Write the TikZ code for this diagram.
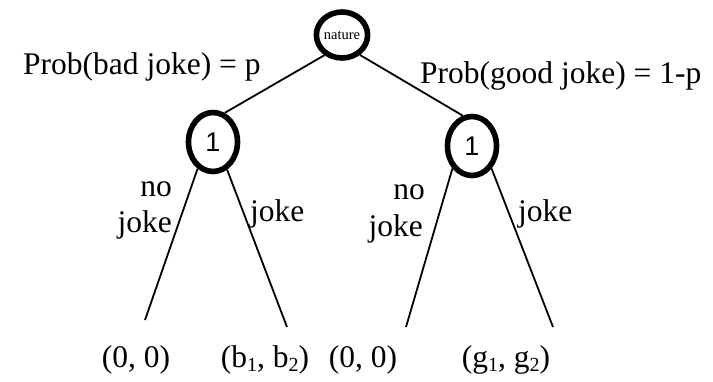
\documentclass[tikz,border=0pt]{standalone}
\usepackage{fontspec}
\setmainfont{Liberation Serif}
\newfontfamily\digitfont{Liberation Sans}
\usetikzlibrary{shapes.geometric}
% lowered, smaller index for payoff pairs
\newcommand\payidx[1]{\raisebox{-0.12em}{\fontsize{20}{20}\selectfont #1}}
\begin{document}
\begin{tikzpicture}[x=1pt,y=-1pt,
  chance/.style={ellipse, draw, line width=5.6pt, inner sep=0pt},
  player/.style={chance, minimum width=49pt, minimum height=59pt,
    font=\digitfont\fontsize{27}{27}\selectfont},
  branch/.style={line width=1.8pt},
  lbl/.style={font=\fontsize{31.5}{36}\selectfont, inner sep=0pt},
]
\useasboundingbox (0,0) rectangle (713,382);

% decision nodes
\node[chance, minimum width=50pt, minimum height=46pt,
      font=\fontsize{14.5}{14.5}\selectfont] (nat) at (342,35) {nature};
\node[player] (pa) at (213,142) {1};
\node[player] (pb) at (472,146) {1};

% nature's moves
\draw[branch] (nat.229) -- (pa.68);
\draw[branch] (nat.-48) -- (pb.107);

% player 1's moves
\coordinate (e1) at (145,320);
\coordinate (e2) at (287,327);
\coordinate (e3) at (406,327);
\coordinate (e4) at (553,327);
\draw[branch] (pa.-120) -- (e1);
\draw[branch] (pa.-63) -- (e2);
\draw[branch] (pb.-131) -- (e3);
\draw[branch] (pb.-49) -- (e4);

% probabilities
\node[lbl, anchor=base west] (pbad) at (23,75) {Prob(bad joke) = p};
\node[lbl, anchor=base west] (pgood) at (420,84) {Prob(good joke) = 1-p};

% action labels
\node[lbl, anchor=base east] (na1) at (172,197) {no};
\node[lbl, anchor=base east] (nb1) at (172,233) {joke};
\node[lbl, anchor=base west] (ja1) at (250,222) {joke};
\node[lbl, anchor=base east] (na2) at (425,200) {no};
\node[lbl, anchor=base east] (nb2) at (423,237) {joke};
\node[lbl, anchor=base west] (ja2) at (518,222) {joke};

% payoffs
\node[lbl, anchor=base] (o1) at (136,368) {(0, 0)};
\node[lbl, anchor=base] (o2) at (265,368) {(b\payidx{1}, b\payidx{2})};
\node[lbl, anchor=base] (o3) at (363,368) {(0, 0)};
\node[lbl, anchor=base] (o4) at (506,368) {(g\payidx{1}, g\payidx{2})};
\end{tikzpicture}
\end{document}
